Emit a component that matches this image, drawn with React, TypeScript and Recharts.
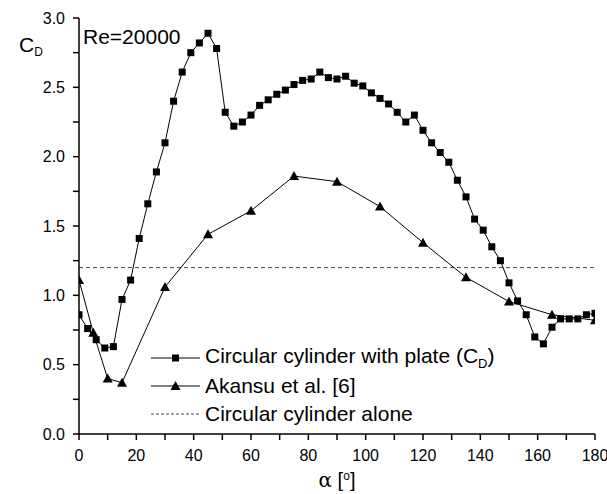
import React from "react";
import {
  LineChart,
  Line,
  XAxis,
  YAxis,
  Legend,
  ReferenceLine,
  Label,
} from "recharts";

// angle of attack [deg] and drag coefficient, cylinder with plate
const plateAlpha = [
  0, 3, 6, 9, 12, 15, 18, 21, 24, 27, 30, 33, 36, 39, 42, 45, 48, 51, 54, 57,
  60, 63, 66, 69, 72, 75, 78, 81, 84, 87, 90, 93, 96, 99, 102, 105, 108, 111,
  114, 117, 120, 123, 126, 129, 132, 135, 138, 141, 144, 147, 150, 153, 156,
  159, 162, 165, 168, 171, 174, 177, 180,
];
const plateCd = [
  0.86, 0.76, 0.68, 0.62, 0.63, 0.97, 1.11, 1.41, 1.66, 1.89, 2.1, 2.4, 2.61,
  2.75, 2.82, 2.89, 2.78, 2.32, 2.22, 2.25, 2.3, 2.37, 2.41, 2.45, 2.48, 2.52,
  2.55, 2.56, 2.61, 2.57, 2.56, 2.58, 2.53, 2.51, 2.46, 2.42, 2.38, 2.32, 2.25,
  2.3, 2.19, 2.1, 2.03, 1.96, 1.83, 1.71, 1.55, 1.47, 1.35, 1.25, 1.09, 0.96,
  0.86, 0.7, 0.65, 0.77, 0.83, 0.83, 0.83, 0.86, 0.87,
];

// Akansu et al. [6]
const akansuAlpha = [0, 5, 10, 15, 30, 45, 60, 75, 90, 105, 120, 135, 150, 165, 180];
const akansuCd = [1.11, 0.73, 0.4, 0.37, 1.06, 1.44, 1.61, 1.86, 1.82, 1.64, 1.38, 1.13, 0.955, 0.86, 0.82];

const cylinderAloneCd = 1.2;

const xTicks = [0, 10, 20, 30, 40, 50, 60, 70, 80, 90, 100, 110, 120, 130, 140, 150, 160, 170, 180];
const yTicks = [0, 0.25, 0.5, 0.75, 1, 1.25, 1.5, 1.75, 2, 2.25, 2.5, 2.75, 3];

const FONT = '"Liberation Sans", Arial, sans-serif';

const plateData = plateAlpha.map((a, i) => ({ a, cd: plateCd[i] }));
const akansuData = akansuAlpha.map((a, i) => ({ a, cd: akansuCd[i] }));

const SquareDot = (props: any) => {
  const { cx, cy, index } = props;
  if (cx == null || cy == null) return <g key={index} />;
  return <rect key={index} x={cx - 3.5} y={cy - 3.5} width={7} height={7} fill="#000" />;
};

const TriangleDot = (props: any) => {
  const { cx, cy, index } = props;
  if (cx == null || cy == null) return <g key={index} />;
  return (
    <polygon
      key={index}
      points={`${cx},${cy - 5} ${cx - 5},${cy + 4} ${cx + 5},${cy + 4}`}
      fill="#000"
    />
  );
};

const LegendBox = () => {
  const row: React.CSSProperties = {
    display: "flex",
    alignItems: "center",
    height: 28,
    fontFamily: FONT,
    fontSize: 21,
    color: "#000",
    whiteSpace: "nowrap",
  };
  return (
    <div>
      <div style={row}>
        <svg width={56} height={20} style={{ marginLeft: -2 }}>
          <line x1={2} y1={10} x2={51} y2={10} stroke="#000" strokeWidth={1} />
          <rect x={23} y={6.5} width={7} height={7} fill="#000" />
        </svg>
        <span>
          Circular cylinder with plate (C<sub style={{ fontSize: 13 }}>D</sub>)
        </span>
      </div>
      <div style={row}>
        <svg width={56} height={20} style={{ marginLeft: -2 }}>
          <line x1={2} y1={10} x2={51} y2={10} stroke="#000" strokeWidth={1} />
          <polygon points="26.5,5 21.5,14 31.5,14" fill="#000" />
        </svg>
        <span>Akansu et al. [6]</span>
      </div>
      <div style={row}>
        <svg width={56} height={20} style={{ marginLeft: -2 }}>
          <line x1={2} y1={10} x2={51} y2={10} stroke="#444" strokeWidth={1} strokeDasharray="3 2" />
        </svg>
        <span>Circular cylinder alone</span>
      </div>
    </div>
  );
};

export default function App() {
  const tick = { fill: "#000", fontSize: 16, fontFamily: FONT };
  return (
    <div style={{ position: "absolute", left: 0, top: 0, background: "#fff" }}>
      <LineChart
        width={607}
        height={494}
        margin={{ top: 18, right: 12, left: 29, bottom: 15 }}
      >
        <XAxis
          type="number"
          dataKey="a"
          domain={[0, 180]}
          ticks={xTicks}
          interval={0}
          tickFormatter={(v: number) => (v % 20 === 0 ? String(v) : "")}
          tick={tick}
          tickSize={6}
          tickMargin={10}
          stroke="#000"
          strokeWidth={1.5}
          height={45}
          allowDataOverflow
        >
          <Label
            content={() => (
              <text x={337} y={487} textAnchor="middle" fontFamily={FONT} fontSize={20} fill="#000">
                <tspan fontFamily='"DejaVu Serif", serif'>α</tspan>
                <tspan> [</tspan>
                <tspan fontSize={12} dy={-7}>o</tspan>
                <tspan dy={7}>]</tspan>
              </text>
            )}
          />
        </XAxis>
        <YAxis
          type="number"
          domain={[0, 3]}
          ticks={yTicks}
          interval={0}
          tickFormatter={(v: number) => (Math.abs((v * 2) % 1) < 1e-9 ? v.toFixed(1) : "")}
          tick={tick}
          tickSize={6}
          tickMargin={8}
          stroke="#000"
          strokeWidth={1.5}
          width={50}
          allowDataOverflow
        >
          <Label
            content={() => (
              <text x={19} y={52} fontFamily={FONT} fontSize={21} fill="#000">
                C<tspan fontSize={12} dy={4}>D</tspan>
              </text>
            )}
          />
        </YAxis>
        <ReferenceLine
          y={cylinderAloneCd}
          stroke="#444"
          strokeWidth={1}
          strokeDasharray="4 3"
        >
          <Label
            content={() => (
              <text x={83} y={44} fontFamily={FONT} fontSize={21} fill="#000">
                Re=20000
              </text>
            )}
          />
        </ReferenceLine>
        <Line
          data={akansuData}
          dataKey="cd"
          stroke="#000"
          strokeWidth={1}
          dot={TriangleDot}
          activeDot={false}
          isAnimationActive={false}
        />
        <Line
          data={plateData}
          dataKey="cd"
          stroke="#000"
          strokeWidth={1}
          dot={SquareDot}
          activeDot={false}
          isAnimationActive={false}
        />
        <Legend
          layout="vertical"
          align="center"
          verticalAlign="middle"
          wrapperStyle={{ position: "absolute", left: 151, top: 344, width: 420 }}
          content={() => <LegendBox />}
        />
      </LineChart>
    </div>
  );
}
